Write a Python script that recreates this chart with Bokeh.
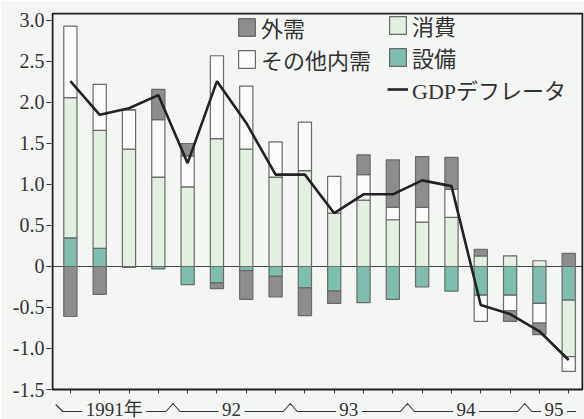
from bokeh.plotting import figure
from bokeh.models import (Range1d, FixedTicker, Span, Legend, LegendItem,
                          Label, PolyAnnotation, BoxAnnotation)
from bokeh.embed import file_html
from bokeh.resources import INLINE

# ---------------- data (contributions, % points) ----------------
quarters = ["91Q1", "91Q2", "91Q3", "91Q4", "92Q1", "92Q2", "92Q3", "92Q4",
            "93Q1", "93Q2", "93Q3", "93Q4", "94Q1", "94Q2", "94Q3", "94Q4",
            "95Q1", "95Q2"]
years = ["1991年", "92", "93", "94", "95"]
year_quarter_counts = [4, 4, 4, 4, 2]

setsubi = [0.35, 0.22, -0.01, -0.03, -0.22, -0.20, -0.05, -0.12, -0.26,
           -0.30, -0.44, -0.40, -0.25, -0.30, -0.35, -0.35, -0.45, -0.41]
shohi = [1.71, 1.44, 1.43, 1.09, 0.97, 1.56, 1.43, 1.09, 1.17,
         0.65, 0.81, 0.57, 0.54, 0.60, 0.13, 0.13, 0.07, -0.69]
sonota = [0.87, 0.56, 0.48, 0.70, 0.38, 1.01, 0.77, 0.43, 0.59,
          0.45, 0.31, 0.15, 0.18, 0.34, -0.32, -0.19, -0.24, -0.18]
gaiju = [-0.61, -0.34, 0.00, 0.37, 0.15, -0.07, -0.35, -0.25, -0.34,
         -0.15, 0.24, 0.58, 0.62, 0.39, 0.08, -0.13, -0.14, 0.16]
gdp_deflator = [2.26, 1.85, 1.93, 2.09, 1.26, 2.26, 1.75, 1.12, 1.12,
                0.65, 0.88, 0.88, 1.05, 0.98, -0.47, -0.58, -0.79, -1.14]

y_ticks = [-1.5, -1.0, -0.5, 0, 0.5, 1.0, 1.5, 2.0, 2.5, 3.0]
y_tick_labels = ["-1.5", "-1.0", "-0.5", "0", "0.5", "1.0", "1.5", "2.0",
                 "2.5", "3.0"]

# ---------------- styling ----------------
BG = "#f3f6f2"
FONT = "Liberation Serif, Noto Sans CJK JP"
TXT = "#333333"
components = [
    ("設備", setsubi, "#7fbdae"),
    ("消費", shohi, "#e3efe0"),
    ("その他内需", sonota, "#fbfcfa"),
    ("外需", gaiju, "#8d8d8d"),
]

W, H = 584, 419
# visible chart box (page pixels): left 52, right 582, top 13, bottom 389
BOX_L, BOX_R, BOX_T, BOX_B = 52, 582, 13, 389
box_x = (-0.61, 17.47)
box_y = (-1.5, 3.085)
ppu = (BOX_R - BOX_L) / (box_x[1] - box_x[0])
ppy = (BOX_B - BOX_T) / (box_y[1] - box_y[0])

# bokeh frame is one pixel larger than the box; extends to the bottom
FR_L, FR_R, FR_T, FR_B = BOX_L - 1, BOX_R + 1, BOX_T - 1, H - 2
x_lo = box_x[0] - (BOX_L - FR_L) / ppu
x_hi = box_x[1] + (FR_R - BOX_R) / ppu
y_hi = box_y[1] + (BOX_T - FR_T) / ppy
y_lo = box_y[0] - (FR_B - BOX_B) / ppy

x = list(range(len(quarters)))

p = figure(width=W, height=H, output_backend="svg", toolbar_location=None,
           x_range=Range1d(x_lo, x_hi), y_range=Range1d(y_lo, y_hi),
           min_border_left=FR_L, min_border_right=W - FR_R,
           min_border_top=FR_T, min_border_bottom=H - FR_B)
p.grid.visible = False
p.background_fill_color = BG
p.border_fill_color = BG
p.outline_line_color = None

# y axis
ya = p.yaxis[0]
ya.ticker = FixedTicker(ticks=y_ticks)
ya.major_label_overrides = {t: l for t, l in zip(y_ticks, y_tick_labels)}
ya.minor_tick_line_color = None
ya.major_tick_in = 0
ya.major_tick_out = 5
ya.major_tick_line_color = "#333333"
ya.axis_line_color = None
ya.major_label_standoff = 2
ya.major_label_text_font = "Liberation Serif"
ya.major_label_text_font_size = "20px"
ya.major_label_text_color = TXT

# x axis: quarter ticks hanging below the box bottom
xa = p.xaxis[0]
xa.ticker = FixedTicker(ticks=x)
xa.fixed_location = box_y[0] - 4 / ppy
xa.major_label_overrides = {i: "" for i in x}
xa.major_label_text_font_size = "1px"
xa.major_label_standoff = 0
xa.minor_tick_line_color = None
xa.major_tick_in = 4
xa.major_tick_out = 0
xa.major_tick_line_color = "#444444"
xa.axis_line_color = None

# zero line
p.add_layout(Span(location=0, dimension="width", line_color="#444444",
                  line_width=1, line_alpha=1, level="underlay"))

# stacked bars (positive upward, negative downward, same order)
pos = [0.0] * len(x)
neg = [0.0] * len(x)
bar_renderers = {}
for name, vals, color in components:
    bottoms, tops = [], []
    for i, v in enumerate(vals):
        if v >= 0:
            bottoms.append(pos[i])
            tops.append(pos[i] + v)
            pos[i] += v
        else:
            tops.append(neg[i])
            bottoms.append(neg[i] + v)
            neg[i] += v
    r = p.vbar(x=x, bottom=bottoms, top=tops, width=0.45, fill_color=color,
               line_color="#6a6a6a", line_width=1.2)
    bar_renderers[name] = r

line_r = p.line(x, gdp_deflator, line_color="#222222", line_width=2.6)

# chart box
p.add_layout(BoxAnnotation(left=box_x[0], right=box_x[1], bottom=box_y[0],
                           top=box_y[1], fill_alpha=0, line_color="#1e1e1e",
                           line_alpha=1, line_width=2))

# legends
ITEM_H = 30

def make_legend(items, loc):
    return Legend(items=items, location=loc, orientation="vertical",
                  padding=0, margin=0, spacing=0, glyph_width=21,
                  glyph_height=22, label_height=ITEM_H, label_standoff=4,
                  label_text_font=FONT, label_text_font_size="22px",
                  label_text_color=TXT, border_line_color=None,
                  background_fill_alpha=0)

leg_top = FR_B - 15
legA = make_legend([LegendItem(label="外需", renderers=[bar_renderers["外需"]]),
                    LegendItem(label="その他内需", renderers=[bar_renderers["その他内需"]])],
                   (185, leg_top - 2 * ITEM_H))
legB = make_legend([LegendItem(label="消費", renderers=[bar_renderers["消費"]]),
                    LegendItem(label="設備", renderers=[bar_renderers["設備"]]),
                    LegendItem(label="GDPデフレータ", renderers=[line_r])],
                   (336, leg_top - 3 * ITEM_H))
p.add_layout(legA)
p.add_layout(legB)

# year labels under the box with bracket line
def below(px):
    return box_y[0] - px / ppy

lab_y = below(20)
line_y = below(22)
peak_y = below(14)
gap = 3.5

def text_w(s, size=19):
    w = 0
    for ch in s:
        w += size if ord(ch) > 0x2000 else size * 0.5
    return w

centers, bounds = [], []
start = 0
for c in year_quarter_counts:
    centers.append(start + (c - 1) / 2)
    bounds.append(start - 0.5)
    start += c
half_w = [(text_w(s) / 2 + gap) / ppu for s in years]

for s, cx in zip(years, centers):
    p.add_layout(Label(x=cx, y=lab_y, text=s,
                       text_align="center", text_baseline="middle",
                       text_font=FONT, text_font_size="19px",
                       text_color=TXT))

def polyline(pts):
    xs = [a for a, b in pts] + [a for a, b in pts[::-1]][1:-1]
    ys = [b for a, b in pts] + [b for a, b in pts[::-1]][1:-1]
    p.add_layout(PolyAnnotation(xs=xs, ys=ys, fill_alpha=0,
                                line_color="#333333", line_alpha=1,
                                line_width=1.1))

pk = 7 / ppu
polyline([(bounds[0], below(15)), (bounds[0] + pk, line_y),
          (centers[0] - half_w[0], line_y)])
for k in range(1, len(years)):
    b = bounds[k]
    polyline([(centers[k - 1] + half_w[k - 1], line_y), (b - pk, line_y),
              (b, peak_y), (b + pk, line_y), (centers[k] - half_w[k], line_y)])
polyline([(centers[-1] + half_w[-1], line_y),
          (centers[-1] + half_w[-1] + 9 / ppu, line_y)])

open("out.html", "w").write(file_html(p, INLINE))
